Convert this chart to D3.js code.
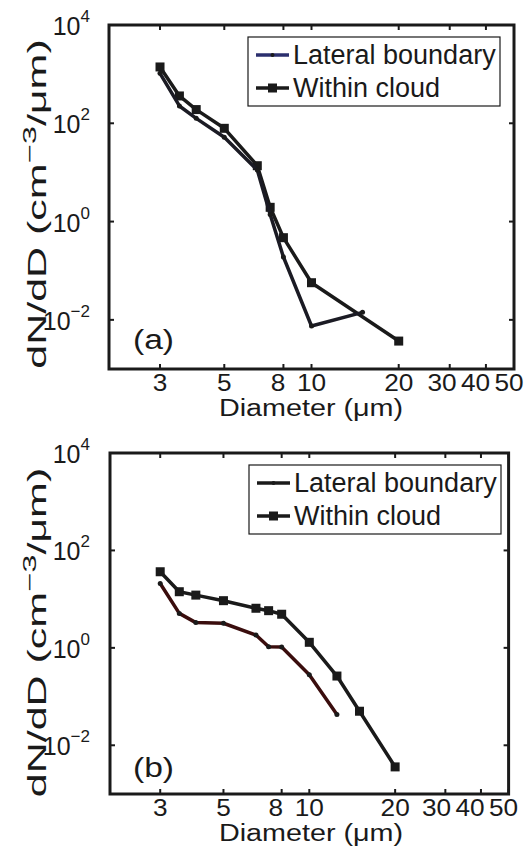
<!DOCTYPE html>
<html><head><meta charset="utf-8">
<script src="https://cdn.jsdelivr.net/npm/d3@7"></script>
<style>body{margin:0;background:#fff}svg{display:block}text{font-family:"Liberation Sans",Arial,sans-serif;fill:#1a1a1a}</style>
</head><body>
<script>
// ---- data ----
const diameters = [3, 3.5, 4, 5, 6.5, 7.2, 8, 10, 12.5, 15, 20];
const seriesNames = ["Lateral boundary", "Within cloud"];
const panelLabels = ["(a)", "(b)"];
const lateralA = [1040, 225, 126, 52, 11.2, 1.4, 0.19, 0.0075, null, 0.0142, null];
const withinA  = [1400, 360, 190, 79, 13.7, 1.95, 0.47, 0.057, null, null, 0.0037];
const lateralB = [21, 5.1, 3.3, 3.2, 1.83, 1.05, 1.04, 0.28, 0.043, null, null];
const withinB  = [36.5, 14.2, 12.1, 9.3, 6.5, 5.8, 4.9, 1.3, 0.264, 0.050, 0.0036];
const xTicks = [3, 5, 8, 10, 20, 30, 40, 50];
const yTickExps = [-2, 0, 2, 4];
const xDomain = [2, 50];
const yDomain = [1e-3, 1e4];
const xLabel = "Diameter (\u03bcm)";

const W = 532, H = 861;
const svg = d3.select("body").append("svg").attr("width", W).attr("height", H);

const panels = [
  {lat: lateralA, win: withinA, label: panelLabels[0], x0: 109, x1: 514, y0: 25, y1: 369,
   latColor: "#1b1b24", latLegend: "#2b2f6e", tickDy: 22, labDy: 47, pDy: -20, ylOff: 7},
  {lat: lateralB, win: withinB, label: panelLabels[1], x0: 110, x1: 508.6, y0: 453, y1: 794,
   latColor: "#3a0d0d", latLegend: "#1a1a1a", tickDy: 22, labDy: 47, pDy: -17, ylOff: 9}
];

panels.forEach(p => {
  const g = svg.append("g");
  const x = d3.scaleLog().domain(xDomain).range([p.x0, p.x1]);
  const y = d3.scaleLog().domain(yDomain).range([p.y1, p.y0]);
  const tl = 5;

  // x tick label positions: avoid overlap near the right end (as in the original)
  const lp = xTicks.map(t => x(t));
  let lim = p.x1 - 5;
  for (let i = lp.length - 1; i >= 0; i--) { lp[i] = Math.min(lp[i], lim); lim = lp[i] - 33.5; }

  xTicks.forEach((t, i) => {
    g.append("line").attr("x1", x(t)).attr("x2", x(t)).attr("y1", p.y1).attr("y2", p.y1 - tl)
      .attr("stroke", "#1a1a1a").attr("stroke-width", 2);
    g.append("line").attr("x1", x(t)).attr("x2", x(t)).attr("y1", p.y0).attr("y2", p.y0 + tl)
      .attr("stroke", "#1a1a1a").attr("stroke-width", 2);
    g.append("text").attr("transform", `translate(${lp[i]},${p.y1 + p.tickDy}) scale(1.14,1)`)
      .attr("text-anchor", "middle").attr("font-size", 23).text(t);
  });
  yTickExps.forEach(e => {
    const v = Math.pow(10, e);
    g.append("line").attr("x1", p.x0).attr("x2", p.x0 + tl).attr("y1", y(v)).attr("y2", y(v))
      .attr("stroke", "#1a1a1a").attr("stroke-width", 2);
    g.append("line").attr("x1", p.x1).attr("x2", p.x1 - tl).attr("y1", y(v)).attr("y2", y(v))
      .attr("stroke", "#1a1a1a").attr("stroke-width", 2);
    const t = g.append("text").attr("x", 90).attr("y", y(v) + 10).attr("text-anchor", "end")
      .attr("font-size", 25);
    t.append("tspan").text("10");
    t.append("tspan").attr("dy", -13).attr("font-size", 17).text(e < 0 ? "\u2212" + (-e) : e);
  });

  // box
  g.append("rect").attr("x", p.x0).attr("y", p.y0).attr("width", p.x1 - p.x0).attr("height", p.y1 - p.y0)
    .attr("fill", "none").attr("stroke", "#1a1a1a").attr("stroke-width", 3);

  // axis labels
  g.append("text").attr("transform", `translate(311,${p.y1 + p.labDy}) scale(1.25,1)`)
    .attr("text-anchor", "middle").attr("font-size", 23).text(xLabel);
  const yl = g.append("text")
    .attr("transform", `translate(46,${(p.y0 + p.y1) / 2 + p.ylOff}) rotate(-90) scale(1.72,1)`)
    .attr("text-anchor", "middle").attr("font-size", 25);
  yl.append("tspan").text("dN/dD (cm");
  yl.append("tspan").attr("dy", -10).attr("font-size", 19).text("\u22123");
  yl.append("tspan").attr("dy", 10).text("/\u03bcm)");

  // panel label
  g.append("text").attr("transform", `translate(133,${p.y1 + p.pDy}) scale(1.2,1)`)
    .attr("font-size", 28).text(p.label);

  // series
  const pts = vals => diameters.map((d, i) => [d, vals[i]]).filter(q => q[1] != null);
  const line = d3.line().x(d => x(d[0])).y(d => y(d[1]));
  const latPts = pts(p.lat), winPts = pts(p.win);
  g.append("path").attr("d", line(winPts)).attr("fill", "none").attr("stroke", "#1a1a1a")
    .attr("stroke-width", 3.5).attr("stroke-linejoin", "round");
  g.selectAll(null).data(winPts).enter().append("rect")
    .attr("x", d => x(d[0]) - 4.5).attr("y", d => y(d[1]) - 4.5).attr("width", 9).attr("height", 9)
    .attr("fill", "#1a1a1a");
  g.append("path").attr("d", line(latPts)).attr("fill", "none").attr("stroke", p.latColor)
    .attr("stroke-width", 3.5).attr("stroke-linejoin", "round");
  g.selectAll(null).data(latPts).enter().append("circle")
    .attr("cx", d => x(d[0])).attr("cy", d => y(d[1])).attr("r", 2.5).attr("fill", "#1a1a1a");

  // legend
  const lx = p.x0 + 139, ly = p.y0 + 12, lw = 252, lh = 69;
  const lg = g.append("g");
  lg.append("rect").attr("x", lx).attr("y", ly).attr("width", lw).attr("height", lh)
    .attr("fill", "#fff").attr("stroke", "#1a1a1a").attr("stroke-width", 1.2);
  [0, 1].forEach(i => {
    const cy = ly + 18 + i * 33;
    lg.append("line").attr("x1", lx + 8).attr("x2", lx + 41).attr("y1", cy).attr("y2", cy)
      .attr("stroke", i === 0 ? p.latLegend : "#1a1a1a").attr("stroke-width", 3.5);
    if (i === 0) lg.append("circle").attr("cx", lx + 24.5).attr("cy", cy).attr("r", 2).attr("fill", "#1a1a1a");
    else lg.append("rect").attr("x", lx + 20).attr("y", cy - 4.5).attr("width", 9).attr("height", 9).attr("fill", "#1a1a1a");
    lg.append("text").attr("x", lx + 45).attr("y", cy + 9).attr("font-size", 27).text(seriesNames[i]);
  });
});
</script>
</body></html>
